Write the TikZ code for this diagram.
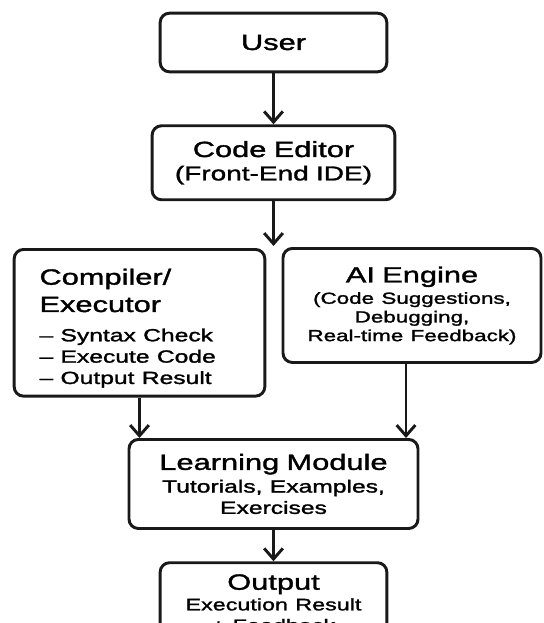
\documentclass[tikz,border=0pt]{standalone}
\usepackage{fontspec}
\setmainfont{Liberation Sans}[FakeStretch=1.4,FakeBold=1.6]
\usetikzlibrary{positioning,arrows.meta}
\newcommand{\ttlfont}{\fontsize{16.5}{16.5}\selectfont}
\newcommand{\bodyfont}{\fontsize{13.2}{16}\selectfont}
\newcommand{\notefont}{\fontsize{12}{14}\selectfont}

\begin{document}
\begin{tikzpicture}[
  x=0.75pt,y=-0.75pt,
  >={Straight Barb[length=8pt,width=14pt]},
  box/.style={rectangle,draw=black!90,line width=2.2pt,rounded corners=7pt,align=center,
              inner sep=0pt,font=\ttlfont},
  flow/.style={->,line width=2.2pt,black!90}
]
\useasboundingbox (0,0) rectangle (543,623);
\clip (0,0) rectangle (543,623);

\node[box,text width=170pt,minimum height=44pt] (U) at (273.5,42.5) {User};
\node[box,text width=182pt,minimum height=55.5pt,below=38.25pt of U] (E)
  {Code Editor\\[1pt] {\fontsize{15}{17}\selectfont (Front-End IDE)}};

\node[box,anchor=north,align=left,text width=150pt,inner xsep=19pt,minimum height=110pt] (C)
  at (139.5,248)
  {\rule{0pt}{20pt}Compiler/\\[4pt] Executor\\[6pt]
   {\bodyfont --\ Syntax Check\\ --\ Execute Code\\ --\ Output Result\par}};
\node[box,anchor=north,text width=193.5pt,minimum height=85.5pt] (A) at (412,247)
  {AI Engine\\[2pt]
   {\notefont (Code Suggestions,\\ Debugging,\\ Real-time Feedback)\par}};

\node[box,anchor=north,text width=216.75pt,minimum height=66.75pt] (L) at (273.5,438)
  {Learning Module\\[1pt]
   {\bodyfont Tutorials, Examples,\\ Exercises\par}};
\node[box,anchor=north,text width=170pt,minimum height=60pt,below=23.5pt of L] (O)
  {Output\\
   {\fontsize{12.5}{15.5}\selectfont Execution Result\\ + Feedback\par}};

% split point between the two middle boxes
\coordinate (S) at (273.5,246);

\draw[flow] (U) -- (E);
\draw[flow] (E) -- (S);
\draw[flow] (C) -- (C |- L.north);
\draw[flow] ([xshift=-4.5pt]A.south) -- ([xshift=-4.5pt]A.south |- L.north);
\draw[flow] (L) -- (O);
\end{tikzpicture}
\end{document}
